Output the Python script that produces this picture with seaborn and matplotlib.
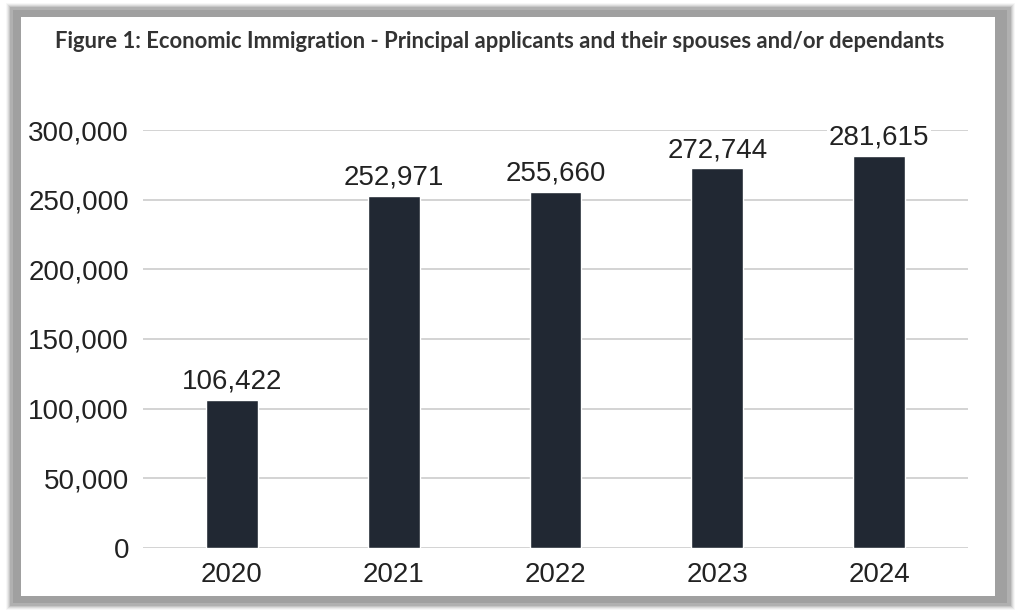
import matplotlib
matplotlib.use("Agg")
import matplotlib.pyplot as plt
from matplotlib.patches import Rectangle
from matplotlib.ticker import FuncFormatter
import seaborn as sns
import pandas as pd

years = ["2020", "2021", "2022", "2023", "2024"]
immigrants = [106422, 252971, 255660, 272744, 281615]
title = "Figure 1: Economic Immigration - Principal applicants and their spouses and/or dependants"

df = pd.DataFrame({"year": years, "count": immigrants})

sns.set_theme(style="white")
plt.rcParams["font.family"] = ["Liberation Sans", "DejaVu Sans"]

W, H = 1017, 614
fig = plt.figure(figsize=(W / 100, H / 100), dpi=100)
fig.patch.set_facecolor("white")


def px_rect(x0, y0, x1, y1, **kw):
    # rectangle in pixel coords, origin top-left
    r = Rectangle((x0 / W, 1 - y1 / H), (x1 - x0) / W, (y1 - y0) / H,
                  transform=fig.transFigure, linewidth=0, zorder=-5, **kw)
    fig.patches.append(r)


# soft grey shadow around the card
for i, a in enumerate([0.06, 0.10, 0.15, 0.22, 0.30]):
    g = 5 - i
    px_rect(11 - g, 8 - g, 1010 + g, 605 + g, facecolor="#808080", alpha=a)
px_rect(13, 10, 1007, 603, facecolor="#a0a0a0")
px_rect(21, 17, 995, 596, facecolor="white")

fig.text(500 / W, 1 - 42 / H, title, ha="center", va="center",
         fontsize=15.8, fontweight="bold", color="#333333",
         family=["Lato", "DejaVu Sans"])

ax = fig.add_axes([143 / W, 1 - 548 / H, (968 - 143) / W, (548 - 130) / H])
ax.set_zorder(5)
ax.set_facecolor("none")
sns.barplot(data=df, x="year", y="count", color="#212833", width=0.32,
            saturation=1, ax=ax, zorder=3)

ax.set_ylim(0, 300000)
ax.set_xlim(-0.55, 4.55)
ax.set_yticks(range(0, 300001, 50000))
ax.yaxis.set_major_formatter(FuncFormatter(lambda v, p: f"{int(v):,}"))
ax.grid(axis="y", color="#d0d0d0", linewidth=1.3, zorder=0)
ax.set_axisbelow(True)
for s in ax.spines.values():
    s.set_visible(False)
ax.set_xlabel("")
ax.set_ylabel("")
ax.tick_params(axis="both", length=0, labelsize=20, labelcolor="#222222")
ax.tick_params(axis="y", pad=10)
ax.tick_params(axis="x", pad=10)

for i, v in enumerate(immigrants):
    ax.text(i, v + 3500, f"{v:,}", ha="center", va="bottom", fontsize=20,
            color="#222222", zorder=5,
            bbox=dict(facecolor="white", edgecolor="none", pad=1))

fig.savefig("out.png", dpi=100, facecolor="white")
